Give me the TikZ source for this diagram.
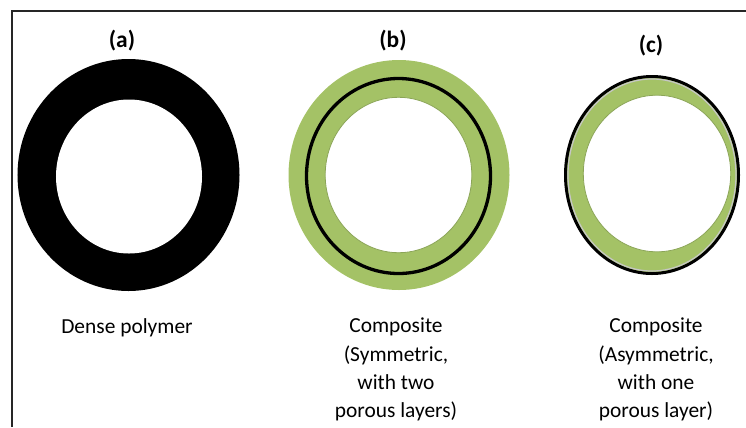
\documentclass[tikz,border=0pt]{standalone}
\usepackage{fontspec}
\setmainfont{Carlito}
\definecolor{porous}{RGB}{164,194,102}

\begin{document}
\begin{tikzpicture}[x=1bp,y=-1bp,
    title/.style={font=\bfseries\fontsize{23.5}{28}\selectfont,anchor=base,inner sep=0},
    caption/.style={font=\fontsize{21.5}{28.3}\selectfont,align=center,anchor=north,inner sep=0}]
  \useasboundingbox (0,0) rectangle (746,427);
  \draw[line width=2.5bp,black!85] (12,427) -- (12,11) -- (746,11);
  % (a) dense
  \fill[black] (128.5,175) ellipse [x radius=111bp,y radius=116bp];
  \fill[white] (129,176.5) ellipse [x radius=73bp,y radius=77bp];
  % (b) symmetric
  \fill[porous] (399,175) ellipse [x radius=110.5bp,y radius=115bp];
  \draw[line width=3.3bp] (398.5,176) ellipse [x radius=92bp,y radius=97.5bp];
  \filldraw[fill=white,draw=porous!85!black,line width=0.8bp] (398.5,175) ellipse [x radius=73.3bp,y radius=77.7bp];
  % (c) asymmetric
  \filldraw[fill=porous,draw=black,line width=3bp] (652,175) ellipse [x radius=86.5bp,y radius=98.5bp];
  \draw[gray!45,line width=1.2bp] (652,175) ellipse [x radius=84bp,y radius=96bp];
  \filldraw[fill=white,draw=porous!85!black,line width=0.8bp] (657,173.5) ellipse [x radius=73.7bp,y radius=78.3bp];
  \node[title] (ta) at (122,47) {(a)};
  \node[title] (tb) at (393,47) {(b)};
  \node[title] (tc) at (651,52) {(c)};
  \node[caption] (ca) at (127,318) {Dense polymer};
  \node[caption] (cb) at (396,318) {Composite\\(Symmetric,\\with two\\porous layers)};
  \node[caption] (cc) at (656,318) {Composite\\(Asymmetric,\\with one\\porous layer)};
\end{tikzpicture}
\end{document}
